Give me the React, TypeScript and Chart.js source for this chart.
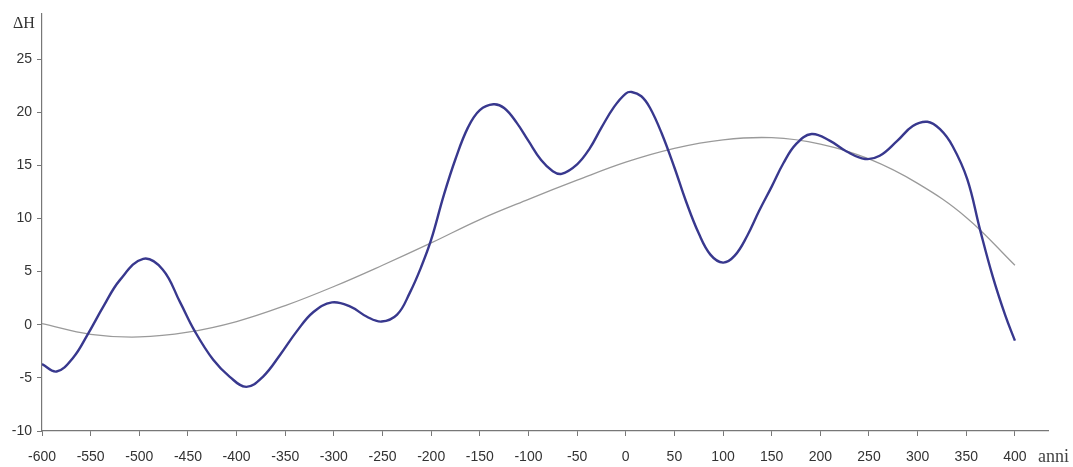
import React, { useEffect, useRef } from "react";
import { Chart, registerables } from "chart.js";

Chart.register(...registerables);

// Blue curve: ΔH (anni, valore)
const blueYears = [
  -600, -585, -568, -553, -537, -520, -496, -476, -458, -443, -424, -407, -390, -373, -355, -338,
  -321, -302, -283, -266, -251, -235, -222, -210, -200, -187, -175, -162, -150, -136, -125, -112,
  -100, -87, -75, -66, -50, -37, -25, -12, 0, 6, 16, 25, 37, 50, 62, 75, 87, 100, 112, 125, 137,
  150, 162, 175, 191, 210, 227, 246, 261, 279, 295, 310, 323, 336, 351, 364, 377, 390, 400,
];
const blueValues = [
  -3.7, -4.4, -3.1, -0.9, 1.7, 4.2, 6.2, 5.2, 2.1, -0.6, -3.3, -4.9, -5.85, -4.9, -2.8, -0.6,
  1.2, 2.1, 1.7, 0.75, 0.3, 0.95, 3.0, 5.5, 8.0, 12.2, 15.6, 18.6, 20.2, 20.75, 20.4, 19.0,
  17.3, 15.5, 14.45, 14.2, 15.1, 16.6, 18.55, 20.5, 21.75, 21.9, 21.5, 20.4, 18.0, 14.8, 11.6, 8.6,
  6.6, 5.85, 6.5, 8.4, 10.7, 13.0, 15.2, 17.0, 17.95, 17.3, 16.3, 15.6, 15.9, 17.3, 18.7,
  19.1, 18.4, 16.8, 13.7, 9.0, 4.6, 0.9, -1.5,
];

// Grey trend curve
const greyYears = [
  -600, -550, -500, -450, -400, -350, -300, -250, -200, -150, -100, -50, 0, 50, 100, 150, 200, 250,
  300, 350, 400,
];
const greyValues = [
  0.1, -0.9, -1.15, -0.7, 0.3, 1.8, 3.6, 5.6, 7.7, 9.9, 11.8, 13.6, 15.3, 16.6, 17.4, 17.6, 17.0,
  15.6, 13.3, 10.1, 5.6,
];

// Tick labels
const xTicks = [
  -600, -550, -500, -450, -400, -350, -300, -250, -200, -150, -100, -50, 0, 50, 100, 150, 200, 250,
  300, 350, 400,
];
const yTicks = [-10, -5, 0, 5, 10, 15, 20, 25];

export default function App() {
  const canvasRef = useRef<HTMLCanvasElement | null>(null);

  useEffect(() => {
    if (!canvasRef.current) return;
    const tickFont = { family: '"Liberation Sans", Arial, sans-serif', size: 14 };
    const chart = new Chart(canvasRef.current, {
      type: "line",
      data: {
        datasets: [
          {
            data: blueYears.map((x, i) => ({ x, y: blueValues[i] })),
            borderColor: "#38388e",
            borderWidth: 2.4,
            pointRadius: 0,
            tension: 0.4,
            order: 0,
          },
          {
            data: greyYears.map((x, i) => ({ x, y: greyValues[i] })),
            borderColor: "#9a9a9a",
            borderWidth: 1.3,
            pointRadius: 0,
            tension: 0.4,
            order: 1,
          },
        ],
      },
      options: {
        animation: false,
        responsive: true,
        maintainAspectRatio: false,
        layout: { padding: { top: 13, right: 25, bottom: 0, left: 0 } },
        plugins: { legend: { display: false }, tooltip: { enabled: false } },
        scales: {
          x: {
            type: "linear",
            min: -600,
            max: 434,
            afterBuildTicks: (scale: any) => {
              scale.ticks = xTicks.map((value) => ({ value }));
            },
            afterFit: (scale: any) => {
              scale.height = 36;
            },
            ticks: { autoSkip: false, maxRotation: 0, color: "#333", font: tickFont, padding: 13 },
            grid: { drawOnChartArea: false, tickLength: 5, color: "#777" },
            border: { color: "#777", width: 1.2 },
          },
          y: {
            type: "linear",
            min: -10,
            max: 29.3,
            afterBuildTicks: (scale: any) => {
              scale.ticks = yTicks.map((value) => ({ value }));
            },
            afterFit: (scale: any) => {
              scale.width = 42;
            },
            ticks: { color: "#333", font: tickFont, padding: 5 },
            grid: { drawOnChartArea: false, tickLength: 5, color: "#777" },
            border: { color: "#777", width: 1.2 },
          },
        },
      },
    });
    return () => chart.destroy();
  }, []);

  return (
    <div style={{ position: "fixed", left: 0, top: 0, width: 1073, height: 467, background: "#fff" }}>
      <canvas ref={canvasRef} />
      <div
        style={{
          position: "absolute",
          left: 13,
          top: 15,
          fontFamily: '"Liberation Serif", "Times New Roman", serif',
          fontSize: 16,
          lineHeight: 1,
          color: "#333",
        }}
      >
        ΔH
      </div>
      <div
        style={{
          position: "absolute",
          left: 1038,
          top: 447,
          fontFamily: '"Liberation Serif", "Times New Roman", serif',
          fontSize: 18,
          lineHeight: 1,
          color: "#444",
        }}
      >
        anni
      </div>
    </div>
  );
}
